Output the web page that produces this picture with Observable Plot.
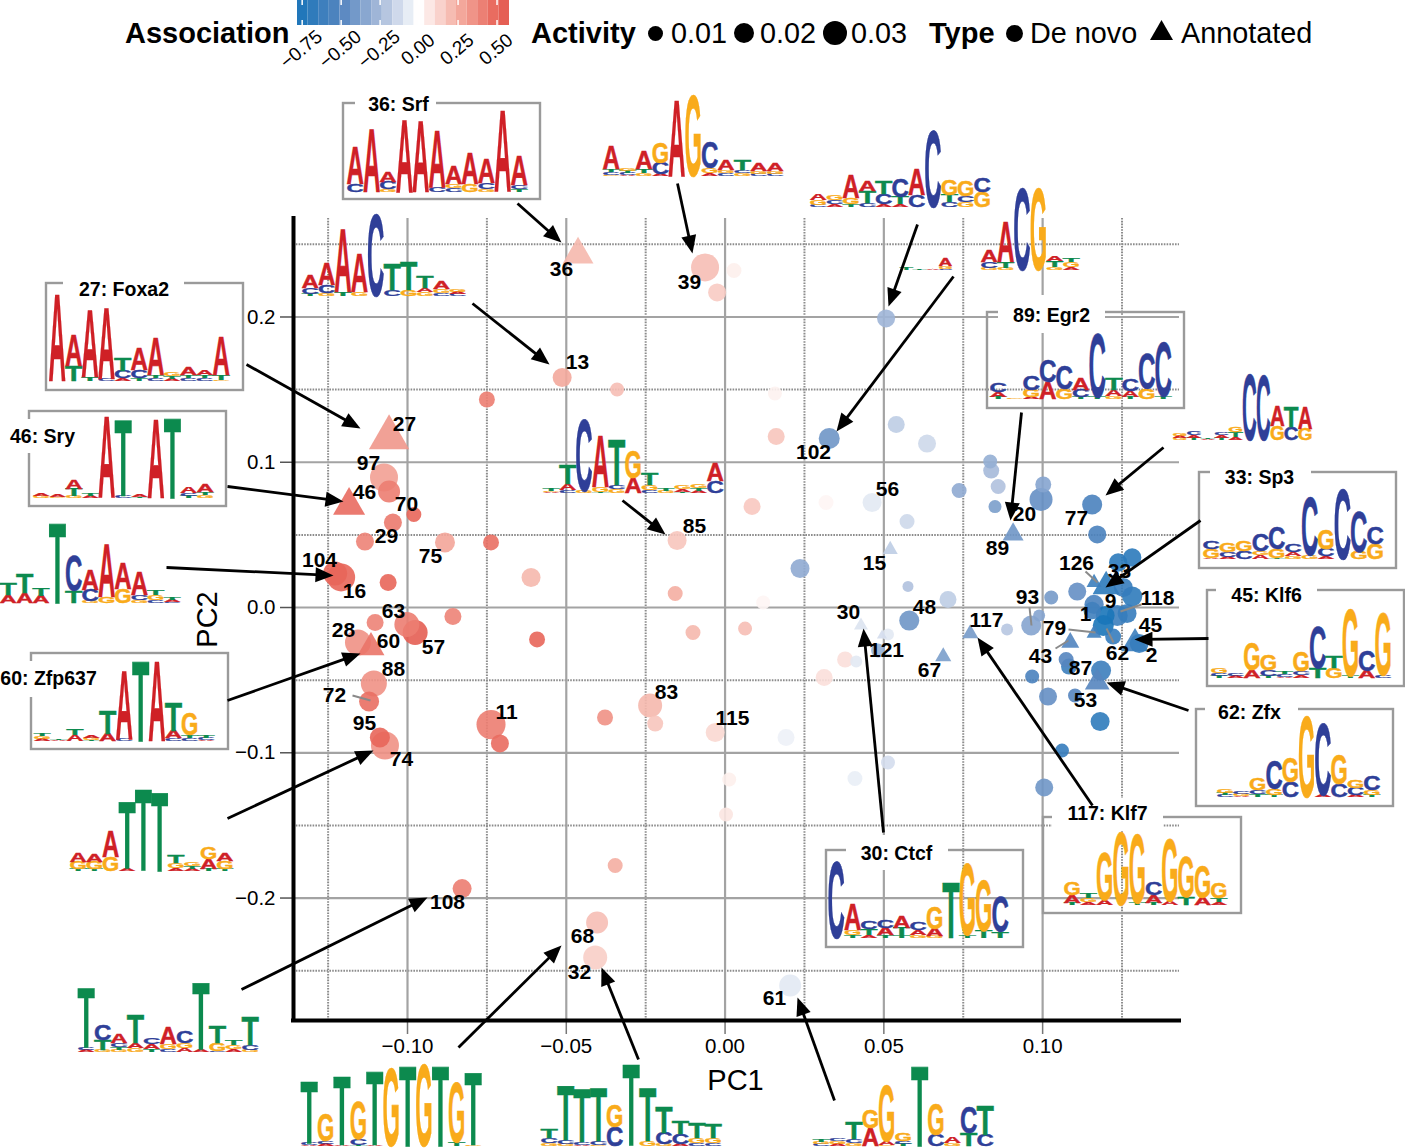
<!DOCTYPE html>
<html><head><meta charset="utf-8">
<script src="https://cdn.jsdelivr.net/npm/d3@7"></script>
<script src="https://cdn.jsdelivr.net/npm/@observablehq/plot@0.6"></script>
<style>
html,body{margin:0;padding:0;background:#fff}
#wrap{position:relative;width:1405px;height:1148px;overflow:hidden;font-family:"Liberation Sans",Arial,sans-serif;color:#000}
#wrap>svg{position:absolute;left:0;top:0}
.lg{position:absolute;top:13px;line-height:40px;font-size:28.8px;white-space:nowrap}
.lg.b{font-weight:bold;font-size:29px}
.c{position:absolute;border-radius:50%;background:#000}
</style></head><body><div id="wrap"></div>
<script>
// ---------- data ----------
const pc1 = [
 -.1074,-.1058,-.0980,-.1046,-.1134,-.0882,-.0737,-.0611,-.1228,-.1209,
 -.1061,-.0857,-.1102,-.0976,-.1002,-.1156,-.1106,-.1121,-.1071,-.1087,
 -.0737,-.0709,-.0750,-.0513,-.0063,.0028,-.0025,-.0340,.0161,.0085,
 -.0151,.0157,.0507,.0328,.0539,.0636,.0838,.0835,.0860,.0737,
 .0850,.0318,.0463,.0573,.0236,.0995,.1002,.1156,.1172,.0120,
 .0063,.0576,.0702,.0580,.0513,.0482,.0378,.0413,.0312,-.0031,
 .0192,.0513,.0409,.0013,.0003,-.0157,-.0592,-.0101,-.0236,-.0220,
 -.0378,-.0346,-.0828,-.0403,-.0409,.0205,.1027,.1109,.1238,.1282,
 .1254,.1282,.1162,.1156,.1266,.1235,.1197,.1191,.1222,.1304,
 .0964,.0989,.0888,.1074,.1083,.0967,.1184,.1017,.1102,.1181,
 .1061,.1005,
 -.1058,-.1184,-.0463,-.1115,.0907,.0520,.0428,.0494,.0772,.0687,
 .1162,.1200,.1162,.1291,.1087,.1172];
const pc2 = [
 .0895,.0799,.0640,.0585,.0454,.0448,.0448,.0207,.0234,.0207,
 .0172,-.0062,-.0103,-.0172,-.0117,-.0241,-.0523,-.0647,-.0950,-.0895,
 -.0806,-.0936,.1432,.1583,.2341,.2320,.2169,.1501,.1177,.0695,
 .0461,.1473,.1990,.1164,.1260,.1129,.0943,.1005,.0833,.0806,
 .0695,.0723,.0723,.0592,.0269,.0744,.0847,.0709,.0503,.0034,
 -.0145,.0145,.0055,-.0090,-.0186,-.0296,-.0358,-.0372,-.0482,-.0861,
 -.0895,-.1067,-.1177,-.1184,-.1425,.0096,-.0220,-.0172,-.0675,-.0799,
 -.0757,-.1776,-.1935,-.2169,-.2410,-.2602,.0069,.0110,.0310,.0344,
 .0138,.0076,.0021,-.0021,-.0041,-.0055,-.0055,-.0124,-.0200,-.0248,
 -.0124,-.0055,-.0151,-.0358,-.0406,-.0475,-.0434,-.0613,-.0606,-.0785,
 -.0985,-.1239,
 .1170,.0702,.2430,-.0275,.0503,.0399,-.0124,-.0193,-.0179,-.0337,
 .0172,.0145,-.0179,-.0248,-.0241,-.0516];
const association = [
 .30,.42,.50,.43,.40,.28,.47,.22,.50,.50,
 .50,.40,.40,.55,.42,.35,.35,.47,.35,.50,
 .42,.48,.42,.27,.20,.05,.16,.20,.18,.17,
 .18,.04,-.27,-.42,-.18,-.14,-.25,-.30,-.22,-.32,
 -.38,.03,-.08,-.14,-.32,-.45,-.35,-.55,-.55,.03,
 .20,-.22,-.18,-.42,-.08,-.30,.10,-.08,.10,.12,
 -.05,-.12,-.06,.05,.08,.25,.50,.22,.22,.18,
 .35,.25,.42,.20,.15,-.08,-.40,-.45,-.70,-.70,
 -.65,-.68,-.55,-.60,-.65,-.62,-.78,-.78,-.65,-.65,
 -.35,-.35,-.20,-.50,-.62,-.55,-.62,-.45,-.50,-.68,
 -.65,-.42,
 .33,.48,.22,.45,-.42,-.18,-.10,-.12,-.40,-.38,
 -.62,-.70,-.60,-.62,-.52,-.50];
const activity = [
 .0464,.0286,.0133,.0192,.0192,.0237,.0151,.0214,.0341,.0464,
 .0171,.0171,.0171,.0370,.0370,.0400,.0400,.0237,.0464,.0237,
 .0500,.0192,.0151,.0214,.0464,.0133,.0192,.0116,.0171,.0171,
 .0214,.0116,.0192,.0261,.0171,.0192,.0151,.0116,.0133,.0133,
 .0100,.0133,.0214,.0133,.0214,.0313,.0151,.0237,.0192,.0116,
 .0116,.0072,.0171,.0237,.0085,.0116,.0151,.0085,.0171,.0214,
 .0171,.0116,.0133,.0116,.0116,.0133,.0151,.0133,.0341,.0151,
 .0151,.0133,.0214,.0286,.0341,.0286,.0116,.0192,.0200,.0200,
 .0210,.0240,.0220,.0180,.0210,.0260,.0210,.0260,.0150,.0210,
 .0237,.0085,.0085,.0133,.0151,.0116,.0237,.0192,.0116,.0214,
 .0116,.0192,
 .0530,.0335,.0310,.0237,.0144,.0074,.0064,.0033,.0085,.0085,
 .0074,.0240,.0074,.0240,.0106,.0200];
const annotatedFrom = 102; // rows from here on are annotated motifs
const points = pc1.map((x,i)=>({x,y:pc2[i],assoc:association[i],activity:activity[i],kind:i<annotatedFrom?"De novo":"Annotated"}));

const xTicks=[-.10,-.05,0,.05,.10], xMinor=[-.125,-.075,-.025,.025,.075,.125];
const yTicks=[-.2,-.1,0,.1,.2], yMinor=[-.25,-.15,-.05,.05,.15,.25];
const xDomain=[-.1359,.1431], yDomain=[-.2843,.2678];
const assocStops=[-.78,-.5,-.25,0,.25,.5,.58];
const assocColors=["#1a75b9","#5585bf","#a5b9d9","#ffffff","#f4ae a2".replace(" ",""),"#e8665a","#e25a4f"];
const legendTicks=[-.75,-.5,-.25,0,.25,.5];

// sequence logos: one string per position, letters listed top to bottom with their heights
const logoSrf=["A37 C8","A63","A10 C7 G3","A72","A71","A56 C5","A18 G4 C4","A30 G8","A24 C6 G3","A80","A29 C4 T3"];
const logo39=["A23 T3 C3 G1","G2 T2 C2 A1","A18 T4 G3","G21 C11 A2","A76","G79","C26 G5 A3","A10 G3 C3","T10 C3 G3","A8 G3 C2","A8 G3 C2"];
const logo102a=["A6 G5 C2","G5 C4 A3","A23 G6 T3","A10 T12 C4","T13 C10 A3","C18 T7 A3","A26 C12","C75","G15 T7 C5","G15 C6 G5","C14 G15"];
const logoTiny=["T2","T1","A1","A7 G3 C1"];
const logo102b=["A12 C6 G2","A40 T6 G2","C80","G80","A5 T6 G3","T4 G5 A3"];
const logoEgr2=["C9 A5 T2","G1","C14 G7 A2","C21 A17","C23 G10","A12 C7 T2","C63 T2","T12 A6 G3","C11 A6 T2","C35 G10","C54 T3"];
const logo77=["G3 A2 G2","C4 A3 T2","T1 A1","C3 A3 T2","G5 T5 A3","C65","C64","A20 G14","T20 C13","A22 G11"];
const logoSp3=["C8 G9 A1","G9 C5 A2","G10 C8","C16 G4 A4","C22 G9 T1","C7 A4 G3","C58 G4","G19 C7 A3","C69","C40 G7","C17 G15"];
const logoKlf6=["G5 C3 T2","C2 A2","G27 A8","G15 C6 T2","T2 C3 A1","G19 C4 A3","C41 T10","T12 G10","G67 T2","C20 A7","G62 C3"];
const logoZfx=["G4 T2 C2","C2 G2 A1","G11 C4 T3","C28 G6 T2","G24 C15","G79","C70 A2","G29 C13","G8 C7 A2","C14 G5 T2"];
const logoKlf7=["G13 A8 T2","T5 G4 A3","G47 A5","G71","G68 T2","C13 A8 T2","G62 A4","G40 T8","G32 A7","G15 T4 A3"];
const logoCtcf=["C75","A26 G5 T3","C8 T6 A3","C8 A7 T3","A11 T7 T3","C7 A5 G3","G22 A7 G2","T55","G70 T3","G50 T7","C34 T6"];
const logoFoxa2=["A86","A31 T15","A66 T4","A71 C2","T13 C7 A3","A21 C8 T3","A37 T3 C3","G4 T3 A2","A7 T3 C3","A5 T3 C3","A38 T5 G1"];
const logoSry=["A3 G2","A2 G1","A9 T7 G2","T2 A2","A80","T75 C2","A3 T1","A78","T79","A6 C3 T2","A8 T3 G3"];
const logo16=["T11 A8","T19 A10","T7 A7","T80","C34 T12","A20 C11 G2","A53 G6","A26 G14","A23 C5 G3","T5 G5 C3","T2 A2 C1"];
const logoZfp637=["T2 G3 A2","T1 A1","T6 A6","A3 G2 T1","T23 A7","A68 C2","T80","A79","T28 A7 C3","G22 T3 C3","T2 C2 A1"];
const logo74=["A9 G7 T2","A8 G7 T2","A26 G14","T67 A2","T80","T78","T8 G5 A3","G4 T3 A2","G12 A10 T2","A8 G8 T2"];
const logo108=["T59 C3 A2","C15 T10 G2","A9 C4 T3 G2","T28 A5 G4","C6 A5 T3","A17 G5 C3","C12 G5 A4","T66 A2","T17 G8 C1","T5 G4 A3","T28 C5 G2"];
const logo68=["T61 C2 A1","G27 C3 A2","T68 A1","G37 C6 T1","T73 A1","G77","T79","G81","T80","G59 T4","T72 G1"];
const logo32=["T9 C5 G3","T54 C4 G2","T52 C3 A1","T52 C4 G1","G22 C19","T81","T53 G5","T25 C11 G2","T13 C10 A2","T15 G5 C3","T14 G5 C3"];
const logo61=["T2 G2 C2","C2 G3 A2","T16 C4 G3","G18 A18","G55 A4 G1","G7 C3 T2","T80","G30 C11","A6 G3","C26 T13","T29 C11"];
const logo13=["A13 C6 T2","A22 C8 G3","A63 T4","A38 G4","C80","T25 C6","T28 G6","T12 A4 G4","A8 G4 C3","G3 A2 C2"];
const logo85=["T2 G1 A1","T19 A6 C3","C71 G2","A51 G5 T1","T45 C4 G4","G27 A15","T12 G5 C3","T2 G2","G4 A3 T1","G4 T3 A2","A18 C12"];

// ---------- page layout of the annotations (picture positions, not data) ----------
const logoLayout=[
 {cols:logoSrf,x0:347,base:192},{cols:logo39,x0:603,base:176},{cols:logo102a,x0:810,base:207},
 {cols:logoTiny,x0:900,base:270,w:13},{cols:logo102b,x0:981,base:270},{cols:logoEgr2,x0:990,base:399,w:16.5},
 {cols:logo77,x0:1173,base:440,w:13.9},{cols:logoSp3,x0:1203,base:559},{cols:logoKlf6,x0:1211,base:678},
 {cols:logoZfx,x0:1217,base:797,w:16.3},{cols:logoKlf7,x0:1064,base:905,w:16.3},{cols:logoCtcf,x0:828,base:938},
 {cols:logoFoxa2,x0:49,base:381},{cols:logoSry,x0:33,base:498},{cols:logo16,x0:0,base:603},
 {cols:logoZfp637,x0:34,base:741},{cols:logo74,x0:70,base:871,w:16.3},{cols:logo108,x0:78,base:1052},
 {cols:logo68,x0:301,base:1146},{cols:logo32,x0:541,base:1146},{cols:logo61,x0:813,base:1146},
 {cols:logo13,x0:302,base:296},{cols:logo85,x0:543,base:493}];
const boxLayout=[
 {t:"36: Srf",b:[343,103,540,199],g:[355,88,436,120],c:[398,104]},
 {t:"27: Foxa2",b:[46,283,243,390],g:[63,268,184,300],c:[123.5,289]},
 {t:"46: Sry",b:[29,411,226,506],g:[8,419,80,453],c:[42,436]},
 {t:"89: Egr2",b:[987,312,1184,408],g:[998,295,1105,333],c:[1051,315]},
 {t:"33: Sp3",b:[1199,472,1396,568],g:[1210,457,1311,493],c:[1259,477]},
 {t:"45: Klf6",b:[1207,590,1404,686],g:[1216,575,1317,610],c:[1266,595]},
 {t:"62: Zfx",b:[1196,709,1393,806],g:[1205,695,1298,730],c:[1249,712]},
 {t:"117: Klf7",b:[1043,817,1241,913],g:[1052,798,1163,830],c:[1107,813]},
 {t:"30: Ctcf",b:[826,850,1023,947],g:[846,835,948,870],c:[896,853]},
 {t:"60: Zfp637",b:[31,653,228,749],g:[0,661,100,697],c:[48,678]}];
const arrowLayout=[[517,203,561,242],[677,183,692,253],[917,224,888,306],[953,276,836,431],[246,364,360,428],
 [472,303,549,364],[227,486,343,501],[166,567,333,575],[622,500,665,534],[1021,412,1010,520],[1163,447,1105,495],
 [1200,520,1105,587],[1208,638,1134,639],[1188,710,1106,682],[1092,805,977,637],[883,832,863,628],[227,700,360,653],
 [227,818,373,750],[241,989,427,897],[458,1047,561,945],[638,1059,601,967],[834,1100,797,997]];
const connectorLayout=[[352,695,370,700],[1029,607,1031,625],[1068,629,1095,632],[1055,648,1068,640],[1085,571,1097,582],[1141,604,1120,611],[1106,628,1113,642]];
const labelLayout=[["36",561,269],["39",689,282],["13",577,362],["27",404,424],["97",368,463],["46",364,492],["70",406,504],["29",386,536],["75",430,556],["104",319,560],["16",354,591],["63",393,611],["28",343,630],["60",388,641],["57",433,647],["88",393,669],["72",334,695],["95",364,723],["74",401,759],["11",506,712],["83",666,692],["115",732,718],["85",694,526],["102",813,452],["56",887,489],["15",874,563],["89",997,548],["20",1024,514],["77",1076,518],["126",1076,563],["33",1119,571],["9",1110,601],["118",1157,598],["1",1085,614],["93",1027,597],["79",1054,628],["43",1040,656],["62",1117,653],["45",1150,625],["2",1151,655],["87",1080,668],["53",1085,700],["117",986,620],["30",848,612],["48",924,607],["121",886,650],["67",929,670],["68",582,936],["32",579,972],["108",447,902],["61",774,998]];

// ---------- scales ----------
const W=1405,H=1148,mL=293,mR=226,mT=218,mB=128;
const FONT='"Liberation Sans",Arial,sans-serif';
const X=d3.scaleLinear().domain([mL,W-mR]).range(xDomain);  // picture -> PC1
const Y=d3.scaleLinear().domain([H-mB,mT]).range(yDomain);  // picture -> PC2
const colorScale={type:"linear",domain:assocStops,range:assocColors};

const letterColor={A:"#cf2026",C:"#2f3f98",G:"#f9ab1a",T:"#0c8a4e"};
const letterAdvance={A:.722,C:.722,G:.778,T:.611};
function logoMark(){
  const g=d3.create("svg:g").attr("font-family",FONT).attr("font-weight","bold").attr("font-size",100).attr("text-anchor","middle");
  for(const {cols,x0,base,w=16.4} of logoLayout){
    cols.forEach((c,i)=>{
      let y=base; const cx=x0+(i+.5)*w;
      for(const s of c.split(" ").reverse()){
        const L=s[0],h=+s.slice(1);
        g.append("text").attr("fill",letterColor[L]).attr("stroke",letterColor[L]).attr("stroke-width",.5)
         .attr("vector-effect","non-scaling-stroke").style("vector-effect","non-scaling-stroke")
         .attr("transform",`translate(${cx},${y}) scale(${(w*1.06/(letterAdvance[L]*100)).toFixed(4)},${(h/69).toFixed(4)})`)
         .text(L);
        y-=h;
      }
    });
  }
  return g.node();
}
// filled arrow head: tip at the origin, pointing up
const arrowHead={draw(ctx){ctx.moveTo(0,0);ctx.lineTo(7.5,18);ctx.lineTo(-7.5,18);ctx.closePath();}};
const txt={fontFamily:FONT,fill:"#000"};

const chart=Plot.plot({
  width:W,height:H,marginLeft:mL,marginRight:mR,marginTop:mT,marginBottom:mB,
  style:{fontFamily:FONT,background:"#fff",color:"#000",overflow:"visible"},
  x:{domain:xDomain,label:null},y:{domain:yDomain,label:null},
  color:colorScale,
  r:{type:"sqrt",domain:[0,.01],range:[0,6.5]},
  symbol:{domain:["De novo","Annotated"],range:["circle","triangle"]},
  marks:[
    Plot.ruleX(xMinor,{stroke:"#8c8c8c",strokeWidth:2,strokeDasharray:"1.6 1.2"}),
    Plot.ruleY(yMinor,{stroke:"#8c8c8c",strokeWidth:2,strokeDasharray:"1.6 1.2"}),
    Plot.ruleX(xTicks,{stroke:"#a3a3a3",strokeWidth:2.2}),
    Plot.ruleY(yTicks,{stroke:"#a3a3a3",strokeWidth:2.2}),
    Plot.axisX({ticks:xTicks,tickFormat:d3.format(".2f"),tickSize:14,tickPadding:4,fontSize:20.5,stroke:"#777",strokeWidth:1.5,label:null,anchor:"bottom"}),
    Plot.axisY({ticks:yTicks,tickFormat:d3.format(".1f"),tickSize:13,tickPadding:5,fontSize:20.5,stroke:"#555",strokeWidth:1.5,label:null,anchor:"left"}),
    Plot.ruleX([xDomain[0]],{stroke:"#000",strokeWidth:4,strokeLinecap:"square"}),
    Plot.ruleY([yDomain[0]],{stroke:"#000",strokeWidth:4,strokeLinecap:"square"}),
    Plot.dot(points,{x:"x",y:"y",r:"activity",fill:"assoc",symbol:"kind",fillOpacity:.9}),
    Plot.rect(boxLayout,{x1:d=>X(d.b[0]),x2:d=>X(d.b[2]),y1:d=>Y(d.b[1]),y2:d=>Y(d.b[3]),fill:"none",stroke:"#9a9a9a",strokeWidth:2.4}),
    Plot.rect(boxLayout,{x1:d=>X(d.g[0]),x2:d=>X(d.g[2]),y1:d=>Y(d.g[1]),y2:d=>Y(d.g[3]),fill:"#fff"}),
    Plot.link(connectorLayout,{x1:d=>X(d[0]),y1:d=>Y(d[1]),x2:d=>X(d[2]),y2:d=>Y(d[3]),stroke:"#8a8a8a",strokeWidth:2}),
    logoMark,
    Plot.link(arrowLayout,{x1:d=>X(d[0]),y1:d=>Y(d[1]),x2:d=>X(d[2]-(d[2]-d[0])/Math.hypot(d[2]-d[0],d[3]-d[1])*8),y2:d=>Y(d[3]-(d[3]-d[1])/Math.hypot(d[2]-d[0],d[3]-d[1])*8),stroke:"#000",strokeWidth:2.8}),
    Plot.dot(arrowLayout,{x:d=>X(d[2]),y:d=>Y(d[3]),r:1,fill:"#000",symbol:()=>arrowHead,rotate:d=>Math.atan2(d[2]-d[0],d[1]-d[3])*180/Math.PI}),
    Plot.text(boxLayout,{x:d=>X(d.c[0]),y:d=>Y(d.c[1]),text:"t",fontSize:19.5,fontWeight:"bold",...txt}),
    Plot.text(labelLayout,{x:d=>X(d[1]),y:d=>Y(d[2]),text:d=>d[0],fontSize:21,fontWeight:"bold",...txt}),
    Plot.text(["PC1"],{x:X(735),y:Y(1080),text:d=>d,fontSize:29,...txt}),
    Plot.text(["PC2"],{x:X(207),y:Y(619),text:d=>d,fontSize:29,rotate:-90,...txt})
  ]
});

// colour bar of the legend
const nBands=20, barDomain=[-.78,.58], step=(barDomain[1]-barDomain[0])/nBands;
const bands=d3.range(nBands).map(i=>({a:barDomain[0]+i*step,b:barDomain[0]+(i+1)*step}));
const bar=Plot.plot({
  width:560,height:80,margin:0,
  style:{background:"transparent",fontFamily:FONT,color:"#000",overflow:"visible"},
  x:{domain:barDomain,range:[297,509],axis:null},
  y:{domain:[0,1],range:[0,25],axis:null},
  color:colorScale,
  marks:[
    Plot.rect(bands,{x1:"a",x2:"b",y1:0,y2:1,fill:d=>(d.a+d.b)/2}),
    Plot.ruleX(legendTicks,{y1:0,y2:.2,stroke:"#fff",strokeWidth:1.5}),
    Plot.ruleX(legendTicks,{y1:.8,y2:1,stroke:"#fff",strokeWidth:1.5}),
    Plot.text(legendTicks,{x:d=>d,y:1,dy:24,dx:-1,rotate:-40,text:d3.format(".2f"),fontSize:19,...txt})
  ]
});

const wrap=document.getElementById("wrap");
wrap.append(chart,bar);
function span(text,left,bold){const s=document.createElement("span");s.className="lg"+(bold?" b":"");s.textContent=text;s.style.left=left+"px";wrap.append(s);}
function circle(cx,r){const d=document.createElement("div");d.className="c";d.style.cssText=`left:${cx-r}px;top:${33-r}px;width:${2*r}px;height:${2*r}px`;wrap.append(d);}
span("Association",125,true);span("Activity",531,true);span("Type",929,true);
span("0.01",671);span("0.02",760);span("0.03",851);span("De novo",1030);span("Annotated",1181);
circle(655,7.5);circle(744,10);circle(835,12);circle(1014,8.5);
const tri=d3.create("svg").attr("width",1405).attr("height",60);
tri.append("polygon").attr("points","1150,40 1173,40 1161.5,20").attr("fill","#000");
wrap.append(tri.node());
</script></body></html>
